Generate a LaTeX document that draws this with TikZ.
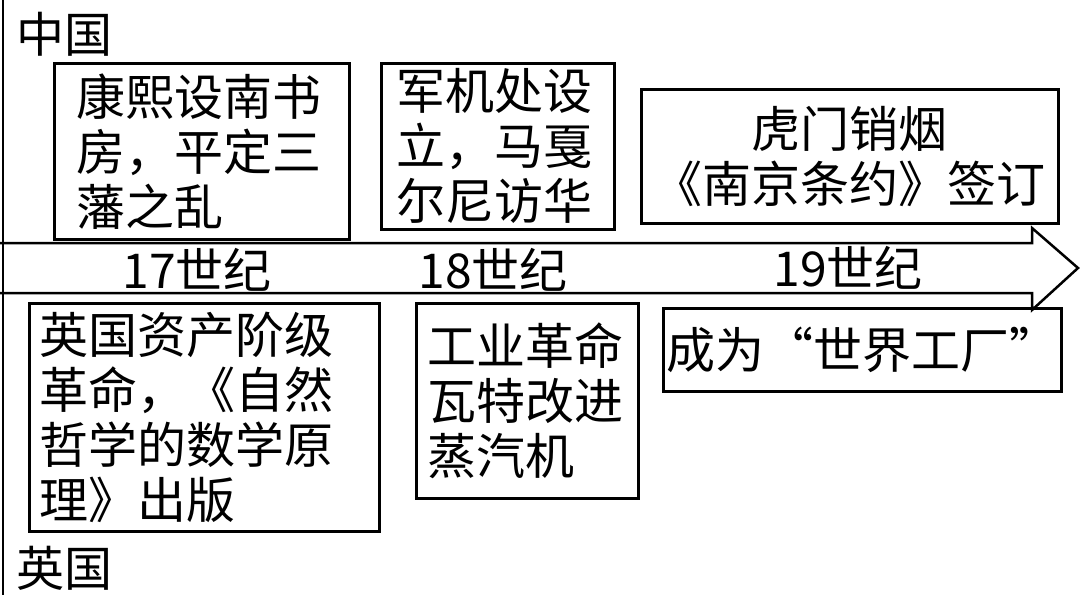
\documentclass[tikz,border=0pt]{standalone}
\usepackage{fontspec}
\setmainfont{Noto Sans CJK SC}
\begin{document}
\begin{tikzpicture}[x=1pt,y=-1pt,line width=2.5pt,
  bx/.style={draw,anchor=north west,inner sep=0pt,font=\fontsize{49}{55}\selectfont},
  lb/.style={font=\fontsize{48}{54}\selectfont,inner sep=0pt}]
\useasboundingbox (0,0) rectangle (1080,595);
\fill[white] (0,0) rectangle (1080,595);
\draw (3,0) -- (3,595);
\draw (0,243) -- (1032,243) -- (1032,228) -- (1078,268) -- (1032,310) -- (1032,293) -- (0,293);
\node[lb,anchor=west] (cn) at (15,34) {中国};
\node[lb,anchor=west] (uk) at (15,568) {英国};
\node[bx,minimum width=295pt,minimum height=176pt,text width=290pt,align=left] (b1) at (53,62) {\hspace*{20pt}康熙设南书\\\hspace*{20pt}房，平定三\\\hspace*{20pt}藩之乱};
\node[bx,minimum width=233pt,minimum height=166pt,text width=230pt,align=left] (b2) at (380,62) {\hspace*{14pt}军机处设\\\hspace*{14pt}立，马戛\\\hspace*{14pt}尔尼访华};
\node[bx,minimum width=417pt,minimum height=134pt,align=center] (b3) at (640,88) {虎门销烟\\《南京条约》签订};
\node[lb] (c17) at (197,270) {17世纪};
\node[lb] (c18) at (493,270) {18世纪};
\node[lb] (c19) at (848,268) {19世纪};
\node[bx,minimum width=350pt,minimum height=228pt,text width=345pt,align=left] (b4) at (28,302) {\hspace*{8pt}英国资产阶级\\\hspace*{8pt}革命，《自然\\\hspace*{8pt}哲学的数学原\\\hspace*{8pt}理》出版};
\node[bx,minimum width=222pt,minimum height=195pt,text width=220pt,align=left] (b5) at (415,302) {\hspace*{10pt}工业革命\\\hspace*{10pt}瓦特改进\\\hspace*{10pt}蒸汽机};
\node[bx,minimum width=398pt,minimum height=83pt,align=center] (b6) at (662,307) {成为“世界工厂”};
\end{tikzpicture}
\end{document}
